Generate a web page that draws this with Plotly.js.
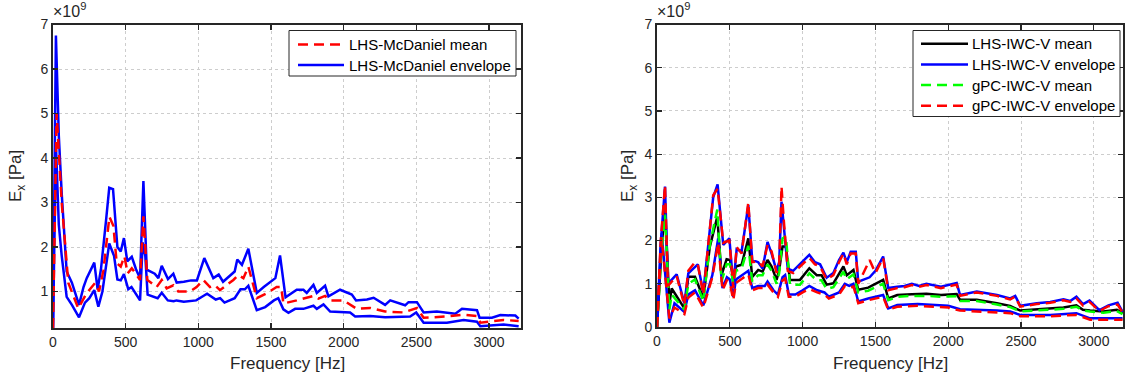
<!DOCTYPE html>
<html>
<head>
<meta charset="utf-8">
<script src="https://cdn.plot.ly/plotly-3.0.1.min.js"></script>
<style>html,body{margin:0;padding:0;background:#fff;}#chart{width:1125px;height:381px;}</style>
</head>
<body>
<div id="chart"></div>
<script>
// ---------- Left panel: LHS-McDaniel (values in units of 1e9 Pa) ----------
const leftMeanFreq = [0,25,60,105,174,231,289,317,347,388,416,438,466,491,514,542,576,599,622,649,713,748,782,828,862,942,988,1034,1080,1115,1149,1241,1275,1310,1344,1402,1470,1539,1570,1585,1677,1792,1826,1872,1907,1999,2090,2182,2285,2411,2504,2550,2710,2825,2917,2940,3100,3204];
const leftMean     = [0.18,5.0,3.0,1.2,0.62,0.96,1.19,1.0,1.48,2.68,2.47,1.64,1.56,1.79,1.41,1.52,1.37,1.26,2.69,1.26,1.1,1.26,1.07,1.14,1.0,1.0,1.1,1.26,1.1,1.14,1.03,1.26,1.37,1.3,1.56,0.85,0.96,1.1,1.1,0.73,0.8,0.9,0.84,0.9,0.8,0.8,0.61,0.63,0.55,0.53,0.63,0.41,0.44,0.48,0.45,0.3,0.36,0.34];

const leftUpperFreq = [0,20,40,60,94,130,179,210,232,284,307,330,365,387,413,443,466,488,511,542,571,599,622,645,700,725,748,791,828,851,900,950,990,1041,1103,1140,1170,1250,1268,1300,1344,1402,1450,1530,1562,1600,1677,1723,1746,1792,1815,1872,1895,1975,2056,2085,2160,2206,2285,2320,2423,2446,2504,2550,2641,2768,2814,2917,2935,3020,3078,3181,3204];
const leftUpper     = [0.18,6.75,4.5,3.2,1.45,1.2,0.7,1.1,1.3,1.65,1.05,1.5,2.6,3.33,3.3,2.0,1.9,2.2,1.68,1.78,1.5,1.3,3.48,1.49,1.4,1.3,1.58,1.28,1.4,1.2,1.22,1.25,1.25,1.75,1.3,1.38,1.22,1.45,1.72,1.6,1.96,0.97,1.1,1.3,1.81,0.87,1.04,1.04,0.97,1.15,0.97,1.13,0.89,1.04,0.93,0.8,0.82,0.86,0.7,0.8,0.69,0.76,0.76,0.53,0.55,0.5,0.61,0.58,0.41,0.41,0.47,0.46,0.39];

const leftLowerFreq = [0,20,40,60,94,130,179,220,250,284,312,340,387,420,443,466,488,518,540,570,599,617,635,651,720,748,790,830,850,900,950,985,1034,1060,1120,1150,1180,1250,1290,1320,1344,1402,1460,1520,1550,1585,1620,1666,1723,1792,1815,1861,1907,2044,2079,2182,2285,2411,2457,2499,2550,2710,2825,2917,2940,3100,3204];
const leftLower     = [0.18,4.3,2.5,1.8,0.88,0.7,0.42,0.75,0.85,1.03,0.66,1.0,2.08,1.8,1.27,1.25,1.39,1.05,1.1,0.95,0.8,2.1,1.8,0.93,0.85,0.97,0.8,0.78,0.8,0.77,0.78,0.8,0.9,0.95,0.82,0.85,0.75,0.85,1.05,1.05,1.13,0.58,0.65,0.8,0.85,0.6,0.52,0.61,0.61,0.68,0.61,0.71,0.55,0.53,0.44,0.45,0.42,0.44,0.44,0.53,0.3,0.3,0.36,0.32,0.22,0.26,0.22];

// ---------- Right panel: IWC-V (values in units of 1e9 Pa) ----------
const rightMeanFreq = [0,32,55,85,101,188,215,261,318,363,414,443,478,501,524,542,581,627,654,695,725,759,787,821,839,862,885,913,982,1046,1097,1130,1165,1211,1280,1303,1349,1382,1450,1553,1588,1650,1750,1850,1950,2058,2081,2196,2334,2425,2494,2608,2791,2880,2925,2974,3066,3158,3197];
const lhsMean       = [0,1.86,2.75,0.55,0.89,0.43,1.16,1.16,0.67,1.86,2.55,1.2,1.57,1.55,1.13,1.4,1.44,2.05,1.16,1.32,1.28,1.55,1.4,1.09,1.32,1.86,1.86,1.09,1.09,1.36,1.2,1.2,0.98,1.01,1.4,1.2,1.32,0.86,0.91,1.09,0.66,0.74,0.76,0.77,0.74,0.76,0.63,0.63,0.55,0.49,0.38,0.41,0.45,0.5,0.4,0.38,0.36,0.4,0.32];
const gpcMean       = [0,1.8,2.6,0.4,0.75,0.4,1.0,1.1,0.6,1.9,2.72,1.05,1.45,1.45,1.0,1.3,1.35,1.88,1.05,1.2,1.2,1.45,1.3,1.0,1.25,2.05,2.1,0.98,0.98,1.24,1.08,1.08,0.88,0.92,1.28,1.1,1.22,0.8,0.84,1.0,0.62,0.7,0.72,0.72,0.7,0.71,0.6,0.6,0.52,0.46,0.36,0.38,0.42,0.47,0.38,0.36,0.33,0.37,0.3];

const rightUpperFreq = [0,25,55,75,135,188,215,261,280,318,386,416,455,497,524,547,581,627,654,695,725,759,787,821,839,855,870,898,935,982,1046,1085,1120,1165,1211,1250,1280,1303,1330,1365,1382,1460,1500,1553,1588,1650,1700,1750,1800,1850,1900,1950,2058,2081,2196,2260,2334,2425,2460,2494,2608,2700,2791,2837,2880,2925,2970,3038,3100,3163,3197];
const lhsUpper       = [0,1.9,3.25,1.0,1.22,0.55,1.24,1.39,1.45,0.8,3.0,3.3,1.9,2.05,0.95,1.8,1.75,2.82,1.55,1.5,1.35,1.97,1.7,1.3,1.5,2.9,2.3,1.35,1.3,1.45,1.67,1.5,1.45,1.14,1.25,1.55,1.72,1.5,1.74,1.74,1.05,1.15,1.3,1.63,0.9,0.93,0.95,1.0,0.95,1.0,0.97,0.93,1.02,0.74,0.82,0.78,0.74,0.66,0.72,0.49,0.55,0.58,0.64,0.6,0.7,0.53,0.61,0.39,0.5,0.56,0.35];
const gpcUpper       = [0,1.95,3.28,0.95,1.18,0.5,1.3,1.5,1.45,0.75,3.05,3.2,1.95,2.0,0.9,1.85,1.7,2.88,1.5,1.52,1.4,1.9,1.75,1.25,1.45,3.25,2.5,1.3,1.25,1.4,1.6,1.45,1.4,1.1,1.2,1.5,1.7,1.45,1.7,1.7,1.0,1.55,1.25,1.6,0.85,0.9,0.92,0.97,0.93,0.97,0.94,0.9,0.98,0.72,0.8,0.76,0.72,0.64,0.7,0.47,0.53,0.56,0.62,0.58,0.66,0.5,0.58,0.37,0.48,0.52,0.33];

const rightLowerFreq = [0,32,85,120,188,215,261,318,380,420,450,480,500,524,542,581,627,654,695,740,759,800,830,862,880,905,950,1000,1046,1100,1150,1180,1250,1290,1320,1349,1382,1450,1553,1588,1650,1790,1900,2000,2081,2196,2334,2425,2494,2700,2880,2974,3197];
const lhsLower       = [0,2.17,0.1,0.55,0.35,0.75,0.85,0.5,1.2,2.05,0.9,1.15,1.1,0.7,1.1,1.2,1.3,0.9,0.95,0.95,1.05,0.85,0.75,1.15,1.2,0.75,0.75,0.85,0.95,0.85,0.8,0.7,0.8,1.0,0.95,1.0,0.59,0.66,0.74,0.43,0.51,0.53,0.51,0.49,0.41,0.4,0.38,0.36,0.28,0.28,0.32,0.2,0.2];
const gpcLower       = [0,2.05,0.2,0.45,0.3,0.68,0.8,0.45,1.15,1.95,0.85,1.08,1.02,0.62,1.02,1.12,1.22,0.85,0.9,0.9,0.98,0.8,0.7,1.08,1.12,0.7,0.7,0.8,0.88,0.8,0.75,0.66,0.75,0.95,0.9,0.94,0.55,0.62,0.7,0.4,0.47,0.49,0.47,0.45,0.38,0.36,0.34,0.32,0.25,0.25,0.28,0.17,0.17];

const xTicks = [0,500,1000,1500,2000,2500,3000];
const leftYTicks = [1,2,3,4,5,6,7];
const rightYTicks = [0,1,2,3,4,5,6,7];

const leftLegendLabels = ['LHS-McDaniel mean', 'LHS-McDaniel envelope'];
const rightLegendLabels = ['LHS-IWC-V mean', 'LHS-IWC-V envelope', 'gPC-IWC-V mean', 'gPC-IWC-V envelope'];

const FONT = 'Liberation Sans, Arial, Helvetica, sans-serif';
const TXT = '#262626';
const dashPat = '10px,6px';
const LW = 2.5;

const BLUE = '#0000ff', RED = '#ff0000', GREEN = '#00ff00', BLACK = '#000000';

const traces = [
  {x: leftUpperFreq, y: leftUpper, type:'scatter', mode:'lines', name:leftLegendLabels[1],
   line:{color:BLUE, width:LW}, showlegend:false, xaxis:'x', yaxis:'y'},
  {x: leftLowerFreq, y: leftLower, type:'scatter', mode:'lines', name:leftLegendLabels[1],
   line:{color:BLUE, width:LW}, showlegend:false, xaxis:'x', yaxis:'y'},
  {x: leftMeanFreq, y: leftMean, type:'scatter', mode:'lines', name:leftLegendLabels[0],
   line:{color:RED, width:LW, dash:dashPat}, showlegend:false, xaxis:'x', yaxis:'y'},

  {x: rightMeanFreq, y: lhsMean, type:'scatter', mode:'lines', name:rightLegendLabels[0],
   line:{color:BLACK, width:LW}, showlegend:false, xaxis:'x2', yaxis:'y2'},
  {x: rightUpperFreq, y: lhsUpper, type:'scatter', mode:'lines', name:rightLegendLabels[1],
   line:{color:BLUE, width:LW}, showlegend:false, xaxis:'x2', yaxis:'y2'},
  {x: rightLowerFreq, y: lhsLower, type:'scatter', mode:'lines', name:rightLegendLabels[1],
   line:{color:BLUE, width:LW}, showlegend:false, xaxis:'x2', yaxis:'y2'},
  {x: rightMeanFreq, y: gpcMean, type:'scatter', mode:'lines', name:rightLegendLabels[2],
   line:{color:GREEN, width:LW, dash:dashPat}, showlegend:false, xaxis:'x2', yaxis:'y2'},
  {x: rightUpperFreq, y: gpcUpper, type:'scatter', mode:'lines', name:rightLegendLabels[3],
   line:{color:RED, width:LW, dash:dashPat}, showlegend:false, xaxis:'x2', yaxis:'y2'},
  {x: rightLowerFreq, y: gpcLower, type:'scatter', mode:'lines', name:rightLegendLabels[3],
   line:{color:RED, width:LW, dash:dashPat}, showlegend:false, xaxis:'x2', yaxis:'y2'}
];

function xAxis(domain, range, anchor){
  return {domain, range, anchor, tickvals:xTicks, ticks:'inside', ticklen:5, tickwidth:1.2, tickcolor:TXT,
    showline:true, linewidth:1.8, linecolor:TXT, mirror:'ticks', showgrid:true, gridcolor:'#cdcdcd',
    griddash:'dot', gridwidth:1, zeroline:false, tickfont:{family:FONT, size:14, color:TXT}, fixedrange:true};
}
function yAxis(domain, range, vals, anchor){
  return {domain, range, anchor, tickvals:vals, ticks:'inside', ticklen:5, tickwidth:1.2, tickcolor:TXT,
    showline:true, linewidth:1.8, linecolor:TXT, mirror:'ticks', showgrid:true, gridcolor:'#cdcdcd',
    griddash:'dot', gridwidth:1, zeroline:false, tickfont:{family:FONT, size:14, color:TXT}, fixedrange:true};
}

const W = 1125, H = 381;
const px = v => v / W, py = v => 1 - v / H;

// Manual legends (box, line samples, labels)
const shapes = [];
const annotations = [];
function addLegend(box, rows){
  shapes.push({type:'rect', xref:'paper', yref:'paper', x0:px(box.x0), x1:px(box.x1), y0:py(box.y1), y1:py(box.y0),
    line:{color:TXT, width:1}, fillcolor:'#ffffff', layer:'above'});
  rows.forEach((r, i) => {
    const yc = box.rowY0 + i * box.rowStep;
    shapes.push({type:'line', xref:'paper', yref:'paper', x0:px(box.s0), x1:px(box.s1), y0:py(yc), y1:py(yc),
      line:{color:r.color, width:LW, dash:r.dash || 'solid'}, layer:'above'});
    annotations.push({text:r.label, xref:'paper', yref:'paper', x:px(box.t0), y:py(yc), xanchor:'left', yanchor:'middle',
      showarrow:false, font:{family:FONT, size:15, color:'#000'}});
  });
}
addLegend({x0:289, x1:516, y0:30.5, y1:76, rowY0:44.5, rowStep:20.5, s0:298, s1:344, t0:347},
  [{label:leftLegendLabels[0], color:RED, dash:dashPat}, {label:leftLegendLabels[1], color:BLUE}]);
addLegend({x0:913, x1:1120, y0:30.5, y1:116.5, rowY0:43.7, rowStep:20.7, s0:921, s1:968, t0:970},
  [{label:rightLegendLabels[0], color:BLACK}, {label:rightLegendLabels[1], color:BLUE},
   {label:rightLegendLabels[2], color:GREEN, dash:dashPat}, {label:rightLegendLabels[3], color:RED, dash:dashPat}]);

annotations.push(
  {text:'×10<sup>9</sup>', xref:'paper', yref:'paper', x:px(51), y:py(22), xanchor:'left', yanchor:'bottom', showarrow:false, font:{family:FONT, size:16, color:TXT}},
  {text:'×10<sup>9</sup>', xref:'paper', yref:'paper', x:px(655), y:py(22), xanchor:'left', yanchor:'bottom', showarrow:false, font:{family:FONT, size:16, color:TXT}},
  {text:'E<sub>x</sub> [Pa]', xref:'paper', yref:'paper', x:px(17), y:py(176), xanchor:'center', yanchor:'middle', textangle:-90, showarrow:false, font:{family:FONT, size:17, color:TXT}},
  {text:'E<sub>x</sub> [Pa]', xref:'paper', yref:'paper', x:px(629), y:py(176), xanchor:'center', yanchor:'middle', textangle:-90, showarrow:false, font:{family:FONT, size:17, color:TXT}},
  {text:'Frequency [Hz]', xref:'paper', yref:'paper', x:px(287), y:py(363), xanchor:'center', yanchor:'middle', showarrow:false, font:{family:FONT, size:17, color:TXT}},
  {text:'Frequency [Hz]', xref:'paper', yref:'paper', x:px(890), y:py(363), xanchor:'center', yanchor:'middle', showarrow:false, font:{family:FONT, size:17, color:TXT}}
);

const layout = {
  width: W, height: H, margin:{l:0, r:0, t:0, b:0}, paper_bgcolor:'#fff', plot_bgcolor:'#fff',
  font:{family:FONT, color:TXT}, showlegend:false,
  xaxis: xAxis([px(53), px(521)], [0, 3220], 'y'),
  yaxis: yAxis([py(328), py(24.5)], [0.18, 7], leftYTicks, 'x'),
  xaxis2: xAxis([px(657), px(1123)], [0, 3200], 'y2'),
  yaxis2: yAxis([py(327), py(24.5)], [0, 7], rightYTicks, 'x2'),
  shapes, annotations
};

Plotly.newPlot('chart', traces, layout, {displayModeBar:false, staticPlot:true});
</script>
</body>
</html>
